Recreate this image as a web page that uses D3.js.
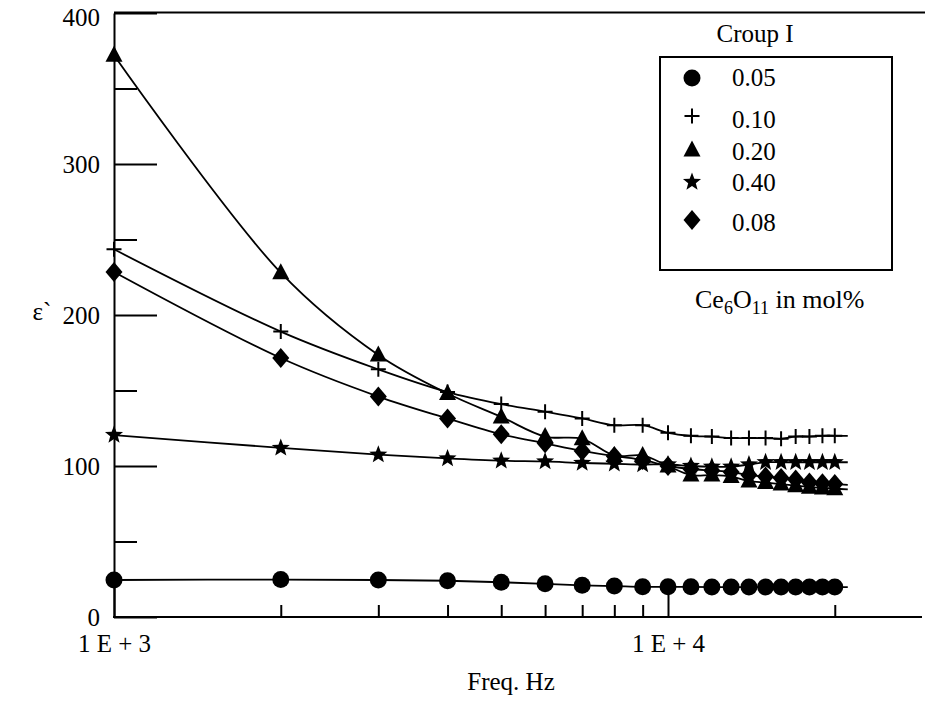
<!DOCTYPE html>
<html>
<head>
<meta charset="utf-8">
<script src="https://cdn.jsdelivr.net/npm/d3@7"></script>
<style>
  html, body { margin: 0; padding: 0; background: #fff; }
  svg text { font-family: "Liberation Serif", "Times New Roman", serif; fill: #000; }
</style>
</head>
<body>
<div id="chart"></div>
<script>
// ========================
// DATA
// ========================
const freqs = [1000, 2000, 3000, 4000, 5000, 6000, 7000, 8000, 9000, 10000,
               11000, 12000, 13000, 14000, 15000, 16000, 17000, 18000, 19000, 20000];

const eps005 = [24.5, 24.8, 24.5, 24, 23, 22, 21, 20.5, 20, 20,
                20, 19.8, 19.8, 19.8, 19.8, 19.8, 19.8, 19.8, 19.8, 19.8];
const eps010 = [243.5, 189, 164, 149, 141, 136, 131.5, 127, 127, 122,
                120, 119.5, 118.5, 118.5, 118.5, 118, 119.5, 119.5, 120, 120];
const eps020 = [372, 228, 173.5, 148, 132.5, 119.5, 118, 107, 107, 100,
                94, 94, 93, 90, 89, 88, 87, 86, 85.5, 85];
const eps040 = [120.5, 112, 107.5, 105, 103.5, 103, 102, 101.5, 101, 101,
                100, 99.5, 99.5, 101, 102.5, 102.5, 102.5, 102.5, 102.5, 102.5];
const eps008 = [228.5, 171.5, 146, 131.5, 121, 115, 110, 106.5, 104, 100,
                98, 97, 96, 94, 93, 92, 91, 89, 88.5, 88];

const seriesNames = ["0.05", "0.10", "0.20", "0.40", "0.08"];
const seriesValues = [eps005, eps010, eps020, eps040, eps008];
const seriesMarkers = ["circle", "plus", "triangle", "star", "diamond"];

const yMajorTicks = [0, 100, 200, 300, 400];
const yMinorTicks = [50, 150, 250, 350];
const xMajorTicks = [1000, 10000];
const xMinorTicks = [2000, 3000, 4000, 5000, 6000, 7000, 8000, 9000, 20000];

// ========================
// LAYOUT
// ========================
const width = 925, height = 708;
const plotLeft = 114, plotTop = 13, plotBottom = 617, axisRight = 922;

const svg = d3.select("#chart").append("svg")
    .attr("width", width)
    .attr("height", height);

const x = d3.scaleLog().domain([1000, 10000]).range([plotLeft, 668]);
const y = d3.scaleLinear().domain([0, 400]).range([plotBottom, plotTop]);

// ---- marker shapes ----
function starPath(ro, ri) {
    const pts = [];
    for (let i = 0; i < 10; i++) {
        const r = i % 2 === 0 ? ro : ri;
        const a = -Math.PI / 2 + i * Math.PI / 5;
        pts.push([r * Math.cos(a), r * Math.sin(a)]);
    }
    return "M" + pts.map(p => p.join(",")).join("L") + "Z";
}
const markerPaths = {
    triangle: "M0,-9.5L8.5,6.5L-8.5,6.5Z",
    diamond: "M0,-10L8.5,0L0,10L-8.5,0Z",
    star: starPath(9.5, 4),
    plus: "M-7.5,0H7.5M0,-7.5V7.5"
};

function drawMarker(g, type, cx, cy) {
    if (type === "circle") {
        g.append("circle").attr("cx", cx).attr("cy", cy).attr("r", 8.5).attr("fill", "#000");
    } else if (type === "plus") {
        g.append("path").attr("d", markerPaths.plus)
            .attr("transform", `translate(${cx},${cy})`)
            .attr("stroke", "#000").attr("stroke-width", 2).attr("fill", "none");
    } else {
        g.append("path").attr("d", markerPaths[type])
            .attr("transform", `translate(${cx},${cy})`)
            .attr("fill", "#000");
    }
}

// ========================
// AXES
// ========================
// top frame line
svg.append("line")
    .attr("x1", plotLeft).attr("x2", width)
    .attr("y1", plotTop - 0.5).attr("y2", plotTop - 0.5)
    .attr("stroke", "#000").attr("stroke-width", 2);

// bottom axis line
svg.append("line")
    .attr("x1", plotLeft - 1).attr("x2", axisRight)
    .attr("y1", plotBottom).attr("y2", plotBottom)
    .attr("stroke", "#000").attr("stroke-width", 2);

// y axis
const yMajor = svg.append("g")
    .attr("transform", `translate(${plotLeft},0)`)
    .call(d3.axisLeft(y).tickValues(yMajorTicks).tickSize(-43).tickSizeOuter(0).tickPadding(14));
svg.append("g")
    .attr("transform", `translate(${plotLeft},0)`)
    .call(d3.axisLeft(y).tickValues(yMinorTicks).tickSize(-23).tickSizeOuter(0).tickFormat(""))
    .select(".domain").remove();

// x axis
const xMajor = svg.append("g")
    .attr("transform", `translate(0,${plotBottom})`)
    .call(d3.axisBottom(x).tickValues(xMajorTicks).tickSize(-29).tickSizeOuter(0).tickPadding(17)
        .tickFormat(d => "1 E + " + Math.round(Math.log10(d))));
xMajor.select(".domain").remove();
svg.append("g")
    .attr("transform", `translate(0,${plotBottom})`)
    .call(d3.axisBottom(x).tickValues(xMinorTicks).tickSize(-12).tickFormat(""))
    .select(".domain").remove();

svg.selectAll(".tick line, .domain").attr("stroke", "#000").attr("stroke-width", 2);
svg.selectAll(".tick text")
    .attr("font-family", "'Liberation Serif', 'Times New Roman', serif")
    .attr("font-size", 25)
    .attr("fill", "#000");
// keep the 400 label inside the picture
yMajor.selectAll(".tick text").filter(d => d === 400).attr("dy", "0.5em");

// axis titles
svg.append("text")
    .attr("x", 511).attr("y", 690)
    .attr("text-anchor", "middle")
    .attr("font-size", 25)
    .text("Freq. Hz");

svg.append("text")
    .attr("x", 42).attr("y", 320)
    .attr("text-anchor", "middle")
    .attr("font-size", 25)
    .text("ε`");

// ========================
// SERIES
// ========================
const line = d3.line()
    .curve(d3.curveCatmullRom.alpha(0.5));

const linesG = svg.append("g");
seriesValues.forEach(vals => {
    const pts = freqs.map((f, i) => [x(f), y(vals[i])]);
    // the fitted curves run on a little past the last point
    const [ax, ay] = pts[pts.length - 2];
    const [bx, by] = pts[pts.length - 1];
    const ext = 13 / (bx - ax);
    pts.push([bx + (bx - ax) * ext, by + (by - ay) * ext]);
    linesG.append("path")
        .attr("d", line(pts))
        .attr("fill", "none")
        .attr("stroke", "#000")
        .attr("stroke-width", 1.8);
});

const markersG = svg.append("g");
seriesValues.forEach((vals, s) => {
    freqs.forEach((f, i) => drawMarker(markersG, seriesMarkers[s], x(f), y(vals[i])));
});

// ========================
// LEGEND
// ========================
const legend = svg.append("g");
legend.append("text")
    .attr("x", 755).attr("y", 42)
    .attr("text-anchor", "middle")
    .attr("font-size", 25)
    .text("Croup I");

legend.append("rect")
    .attr("x", 660).attr("y", 57)
    .attr("width", 232).attr("height", 213)
    .attr("fill", "none")
    .attr("stroke", "#000")
    .attr("stroke-width", 2);

const legendTextY = [86, 128, 160, 191, 231];
const legendMarkY = [78, 116, 150, 182, 220];
seriesNames.forEach((name, i) => {
    drawMarker(legend, seriesMarkers[i], 692, legendMarkY[i]);
    legend.append("text")
        .attr("x", 732).attr("y", legendTextY[i])
        .attr("font-size", 25)
        .text(name);
});

const unit = legend.append("text")
    .attr("x", 695).attr("y", 308)
    .attr("font-size", 26);
unit.append("tspan").text("Ce");
unit.append("tspan").attr("font-size", 18).attr("dy", 6).text("6");
unit.append("tspan").attr("dy", -6).text("O");
unit.append("tspan").attr("font-size", 18).attr("dy", 6).text("11");
unit.append("tspan").attr("dy", -6).text(" in mol%");
</script>
</body>
</html>
